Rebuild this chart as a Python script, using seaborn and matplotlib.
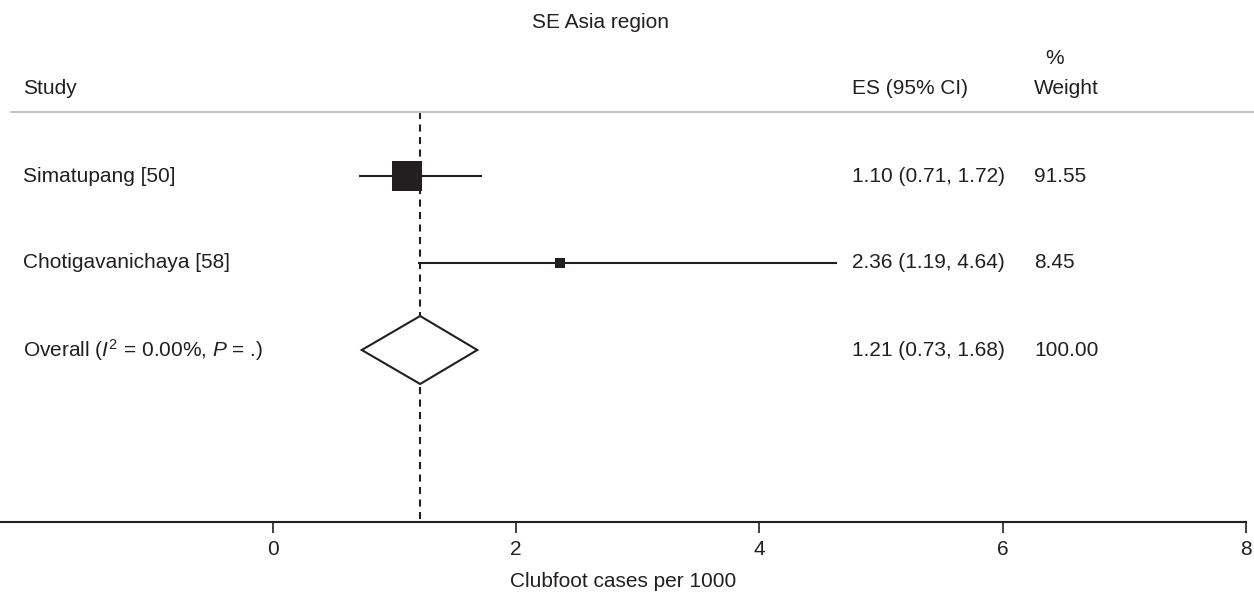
import numpy as np
import pandas as pd
import matplotlib
matplotlib.use("Agg")
import matplotlib.pyplot as plt
import seaborn as sns

# ---- data ----
studies = ["Simatupang [50]", "Chotigavanichaya [58]"]
es = [1.10, 2.36]
ci_low = [0.71, 1.19]
ci_high = [1.72, 4.64]
weights = [91.55, 8.45]
overall_label = r"Overall ($I^2$ = 0.00%, $P$ = .)"
overall_es = 1.21
overall_low = 0.73
overall_high = 1.68
overall_weight = 100.00
title = "SE Asia region"
xlabel = "Clubfoot cases per 1000"
xticks = [0, 2, 4, 6, 8]

# ---- style ----
sns.set_theme(style="white")
plt.rcParams["font.family"] = ["Liberation Sans", "DejaVu Sans"]
plt.rcParams["mathtext.fontset"] = "custom"
plt.rcParams["mathtext.rm"] = "Liberation Sans"
plt.rcParams["mathtext.it"] = "Liberation Sans:italic"
INK = "#231f20"
FS = 15

W, H = 1254, 593
fig = plt.figure(figsize=(W / 100, H / 100), dpi=100)
ax_bottom_px = 522
ax_right_px = 1246
ax = fig.add_axes([0, (H - ax_bottom_px) / H, ax_right_px / W, ax_bottom_px / H])

px_per_unit = 121.6
x0_px = 273
ax.set_xlim(-x0_px / px_per_unit, (ax_right_px - x0_px) / px_per_unit)
ax.set_ylim(ax_bottom_px, 0)

def xd(px):
    return (px - x0_px) / px_per_unit

row0, row_step = 176, 87
rows = [row0 + row_step * i for i in range(len(studies))]
overall_row = row0 + row_step * len(studies)

# reference (dashed) line at overall estimate
ax.plot([overall_es, overall_es], [112, ax_bottom_px], color=INK, lw=1.5,
        ls=(0, (3.4, 2.6)), zorder=1)

# separator line
ax.plot([xd(11), xd(1254)], [112, 112], color="#c4c4c4", lw=1.5,
        clip_on=False, zorder=1)

# CI lines
for lo, hi, y in zip(ci_low, ci_high, rows):
    ax.plot([lo, hi], [y, y], color=INK, lw=1.5, solid_capstyle="butt", zorder=2)

# weighted squares
df = pd.DataFrame({"es": es, "row": rows, "weight": weights})
sns.scatterplot(data=df, x="es", y="row", size="weight", sizes=(62, 470),
                marker="s", color=INK, linewidth=0, legend=False, ax=ax, zorder=3)

# overall diamond
dh = 34
ax.fill([overall_low, overall_es, overall_high, overall_es],
        [overall_row, overall_row - dh, overall_row, overall_row + dh],
        facecolor="white", edgecolor=INK, lw=1.5, zorder=2)

# text columns
txt = dict(color=INK, fontsize=FS, va="center", clip_on=False)
ax.text(xd(600), 23, title, ha="center", **txt)
ax.text(xd(1055), 58, "%", ha="center", **txt)
ax.text(xd(23), 88, "Study", ha="left", **txt)
ax.text(xd(852), 88, "ES (95% CI)", ha="left", **txt)
ax.text(xd(1034), 88, "Weight", ha="left", **txt)

for name, e, lo, hi, w, y in zip(studies, es, ci_low, ci_high, weights, rows):
    ax.text(xd(23), y, name, ha="left", **txt)
    ax.text(xd(852), y, f"{e:.2f} ({lo:.2f}, {hi:.2f})", ha="left", **txt)
    ax.text(xd(1034), y, f"{w:.2f}", ha="left", **txt)

ax.text(xd(23), overall_row, overall_label, ha="left", **txt)
ax.text(xd(852), overall_row,
        f"{overall_es:.2f} ({overall_low:.2f}, {overall_high:.2f})", ha="left", **txt)
ax.text(xd(1034), overall_row, f"{overall_weight:.2f}", ha="left", **txt)

# axes styling
for s in ["top", "right", "left"]:
    ax.spines[s].set_visible(False)
ax.spines["bottom"].set_color(INK)
ax.spines["bottom"].set_linewidth(1.5)
ax.set_xticks(xticks)
ax.set_xticklabels([str(t) for t in xticks])
ax.tick_params(axis="x", bottom=True, length=8, width=1.2, color=INK,
               labelsize=FS, labelcolor=INK, pad=5)
ax.set_yticks([])
ax.set_xlabel(xlabel, fontsize=FS, color=INK, labelpad=9)
ax.set_ylabel("")
ax.patch.set_alpha(0)

fig.savefig("out.png", dpi=100)
